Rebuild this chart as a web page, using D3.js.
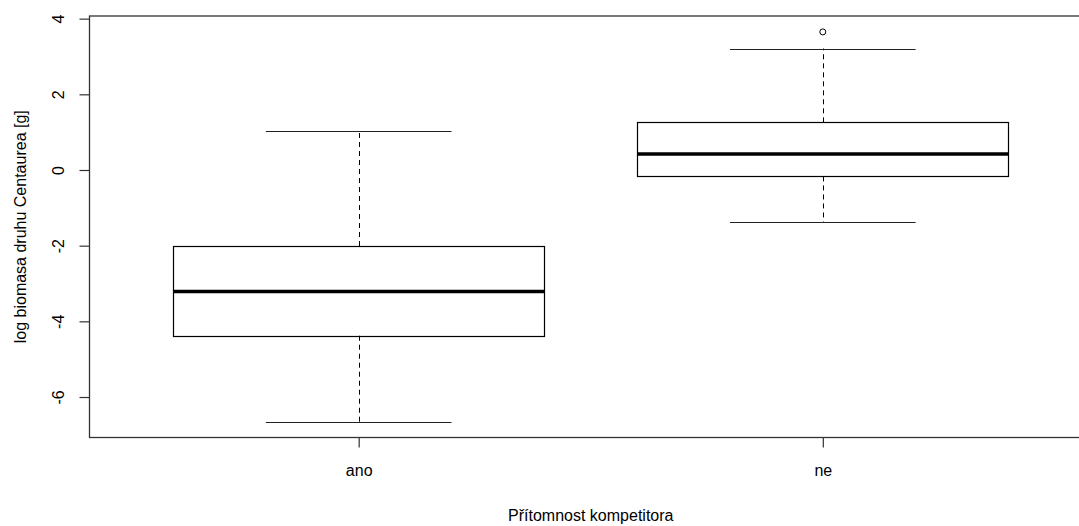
<!DOCTYPE html>
<html>
<head>
<meta charset="utf-8">
<script src="https://cdn.jsdelivr.net/npm/d3@7"></script>
<style>
  body { margin: 0; background: #fff; }
  svg { display: block; font-family: "Liberation Sans", Arial, sans-serif; }
</style>
</head>
<body>
<svg id="box-svg"></svg>
<script>
// data
const categories = ['ano', 'ne'];
const whiskerLow = [-6.66, -1.37];
const q1 = [-4.38, -0.17];
const medians = [-3.21, 0.42];
const q3 = [-2.01, 1.26];
const whiskerHigh = [1.02, 3.21];
const outliers = [[], [3.65]];
const yTicks = [-6, -4, -2, 0, 2, 4];

const width = 1079, height = 526;
const margin = {left: 89.5, top: 16, right: -13, bottom: 88.5};
const svg = d3.select('#box-svg').attr('width', width).attr('height', height);

const plotW = width - margin.left - margin.right;
const plotH = height - margin.top - margin.bottom;

// R style: xlim 0.5..2.5 plus 4%
const x = d3.scaleLinear().domain([0.42, 2.58]).range([margin.left, margin.left + plotW]);
const y = d3.scaleLinear().domain([-7.07, 4.07]).range([margin.top + plotH, margin.top]);

const boxW = (x(1.8) - x(1));
const capW = boxW / 2;

const data = categories.map((c, i) => ({
    cat: c, pos: i + 1,
    lo: whiskerLow[i], q1: q1[i], med: medians[i], q3: q3[i], hi: whiskerHigh[i],
    out: outliers[i]
}));

const g = svg.append('g');

// whiskers (dashed)
g.selectAll('.wh-up').data(data).join('line')
    .attr('x1', d => Math.round(x(d.pos)) + 0.5).attr('x2', d => Math.round(x(d.pos)) + 0.5)
    .attr('y1', d => y(d.q3)).attr('y2', d => y(d.hi))
    .attr('stroke', '#000').attr('stroke-dasharray', '5,4');
g.selectAll('.wh-lo').data(data).join('line')
    .attr('x1', d => Math.round(x(d.pos)) + 0.5).attr('x2', d => Math.round(x(d.pos)) + 0.5)
    .attr('y1', d => y(d.q1)).attr('y2', d => y(d.lo))
    .attr('stroke', '#000').attr('stroke-dasharray', '5,4');

// caps
[['hi'], ['lo']].forEach(([k]) => {
    g.selectAll('.cap-' + k).data(data).join('line')
        .attr('x1', d => x(d.pos) - capW / 2).attr('x2', d => x(d.pos) + capW / 2)
        .attr('y1', d => Math.round(y(d[k])) + 0.5).attr('y2', d => Math.round(y(d[k])) + 0.5)
        .attr('stroke', '#222').attr('stroke-width', 1.2);
});

// boxes
g.selectAll('.box').data(data).join('rect')
    .attr('x', d => Math.round(x(d.pos) - boxW / 2) + 0.5)
    .attr('width', Math.round(boxW))
    .attr('y', d => Math.round(y(d.q3)) + 0.5)
    .attr('height', d => Math.round(y(d.q1)) - Math.round(y(d.q3)))
    .attr('fill', 'none').attr('stroke', '#000').attr('stroke-width', 1.2);

// medians
g.selectAll('.med').data(data).join('line')
    .attr('x1', d => x(d.pos) - boxW / 2).attr('x2', d => x(d.pos) + boxW / 2)
    .attr('y1', d => y(d.med)).attr('y2', d => y(d.med))
    .attr('stroke', '#000').attr('stroke-width', 3.5);

// outliers
data.forEach(d => {
    g.selectAll(null).data(d.out).join('circle')
        .attr('cx', x(d.pos)).attr('cy', v => y(v)).attr('r', 3)
        .attr('fill', 'none').attr('stroke', '#000').attr('stroke-width', 1);
});

// plot frame
svg.append('rect')
    .attr('x', margin.left).attr('y', margin.top)
    .attr('width', plotW).attr('height', plotH)
    .attr('fill', 'none').attr('stroke', '#333').attr('stroke-width', 1.3);

// y axis
const yAxis = svg.append('g').attr('transform', `translate(${margin.left},0)`)
    .call(d3.axisLeft(y).tickValues(yTicks).tickSize(10).tickPadding(0).tickFormat(d => String(d)));
yAxis.select('.domain').remove();
yAxis.selectAll('.tick line').attr('stroke', '#333').attr('stroke-width', 1.2);
yAxis.selectAll('.tick text')
    .attr('transform', 'rotate(-90)')
    .attr('x', 0).attr('y', -31).attr('dy', '0.35em')
    .style('text-anchor', 'middle')
    .attr('font-size', '16px').attr('fill', '#000')
    .attr('font-family', '"Liberation Sans", Arial, sans-serif');

// x axis
const xAxis = svg.append('g').attr('transform', `translate(0,${margin.top + plotH})`)
    .call(d3.axisBottom(x).tickValues([1, 2]).tickSize(10).tickPadding(0).tickFormat(d => categories[d - 1]));
xAxis.select('.domain').remove();
xAxis.selectAll('.tick line').attr('stroke', '#333').attr('stroke-width', 1.2);
xAxis.selectAll('.tick text')
    .attr('y', 33).attr('dy', '0.35em')
    .attr('font-size', '16px').attr('fill', '#000')
    .attr('font-family', '"Liberation Sans", Arial, sans-serif');

// axis titles
svg.append('text')
    .attr('x', margin.left + plotW / 2).attr('y', 515).attr('dy', '0.35em')
    .style('text-anchor', 'middle').attr('font-size', '16px')
    .text('Přítomnost kompetitora');

svg.append('text')
    .attr('transform', `translate(20,${margin.top + plotH / 2}) rotate(-90)`)
    .attr('dy', '0.35em')
    .style('text-anchor', 'middle').attr('font-size', '16px')
    .text('log biomasa druhu Centaurea [g]');
</script>
</body>
</html>
